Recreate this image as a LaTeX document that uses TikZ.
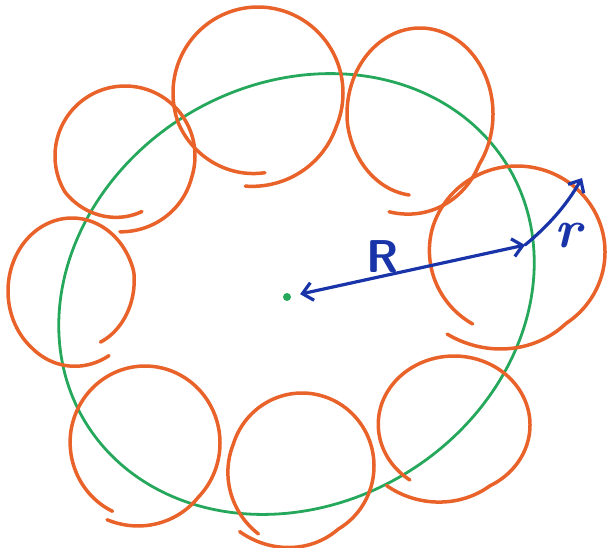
\documentclass[tikz,border=0pt]{standalone}
\usepackage{fontspec}
\usetikzlibrary{arrows.meta}
\definecolor{loopor}{RGB}{232,98,42}
\definecolor{ringgreen}{RGB}{38,168,92}
\definecolor{penblue}{RGB}{24,52,168}
% hand-drawn loop: cx cy rx ry startangle sweep startoffset endoffset
\newcommand{\hloop}[8]{%
  \draw[loopline] plot[domain=0:1, samples=180, smooth, variable=\s]
    ({#1+(#3+(#7)*max(0,1-5*\s)+(#8)*max(0,5*\s-4))*cos(#5+#6*\s)},
     {#2+(#4+(#7)*max(0,1-5*\s)+(#8)*max(0,5*\s-4))*sin(#5+#6*\s)});}
\begin{document}
\begin{tikzpicture}[x=0.5pt,y=-0.5pt,
  loopline/.style={draw=loopor, line width=1.75pt, line cap=round, line join=round},
  ringline/.style={draw=ringgreen, line width=1.4pt},
  penline/.style={draw=penblue, line width=1.6pt, line cap=round, line join=round},
  barb/.tip={Straight Barb[length=5pt,width=9pt,line width=1.6pt]},
  dotstyle/.style={circle, fill=ringgreen, inner sep=0pt, minimum size=4pt},
  lbl/.style={text=penblue, inner sep=0pt}]
\useasboundingbox (0,0) rectangle (608,547);
% large green ring (tilted ellipse)
\draw[ringline] plot[domain=0:360, samples=240, smooth, variable=\t]
  ({296.5+247*cos(\t)*0.8572-210*sin(\t)*0.5150},
   {294-(247*cos(\t)*0.5150+210*sin(\t)*0.8572)}) -- cycle;
% orange loops
\hloop{125}{156}{70}{70}{73}{381}{-12}{6}
\hloop{258}{93}{85}{86}{85}{373}{-6}{8}
\hloop{420}{114}{73}{86}{99}{371}{-4}{18}
\hloop{517}{252}{88}{86}{121}{369}{-2}{21}
\hloop{72}{291}{64}{73}{57}{360}{4}{-12}
\hloop{145}{443}{75}{77}{116}{361}{-1}{9}
\hloop{302}{466}{72}{73}{123}{371}{8}{18}
\hloop{454}{425}{76}{69}{126}{370}{-1}{18}
% centre, radii
\node[dotstyle] (ctr) at (287,297) {};
\coordinate (Rhead) at (525,245);
\coordinate (rhead) at (582,178);
\draw[penline, barb-barb, shorten <=4.5pt] (ctr) -- (Rhead);
\draw[penline, -barb] (Rhead) .. controls (548,226) and (566,206) .. (rhead);
\node[lbl, font=\sffamily\bfseries\fontsize{23}{23}\selectfont] (Rlab) at (383,257) {R};
\node[lbl, font=\bfseries\itshape\fontsize{27}{27}\selectfont] (rlab) at (568,236) {r};
\end{tikzpicture}
\end{document}
